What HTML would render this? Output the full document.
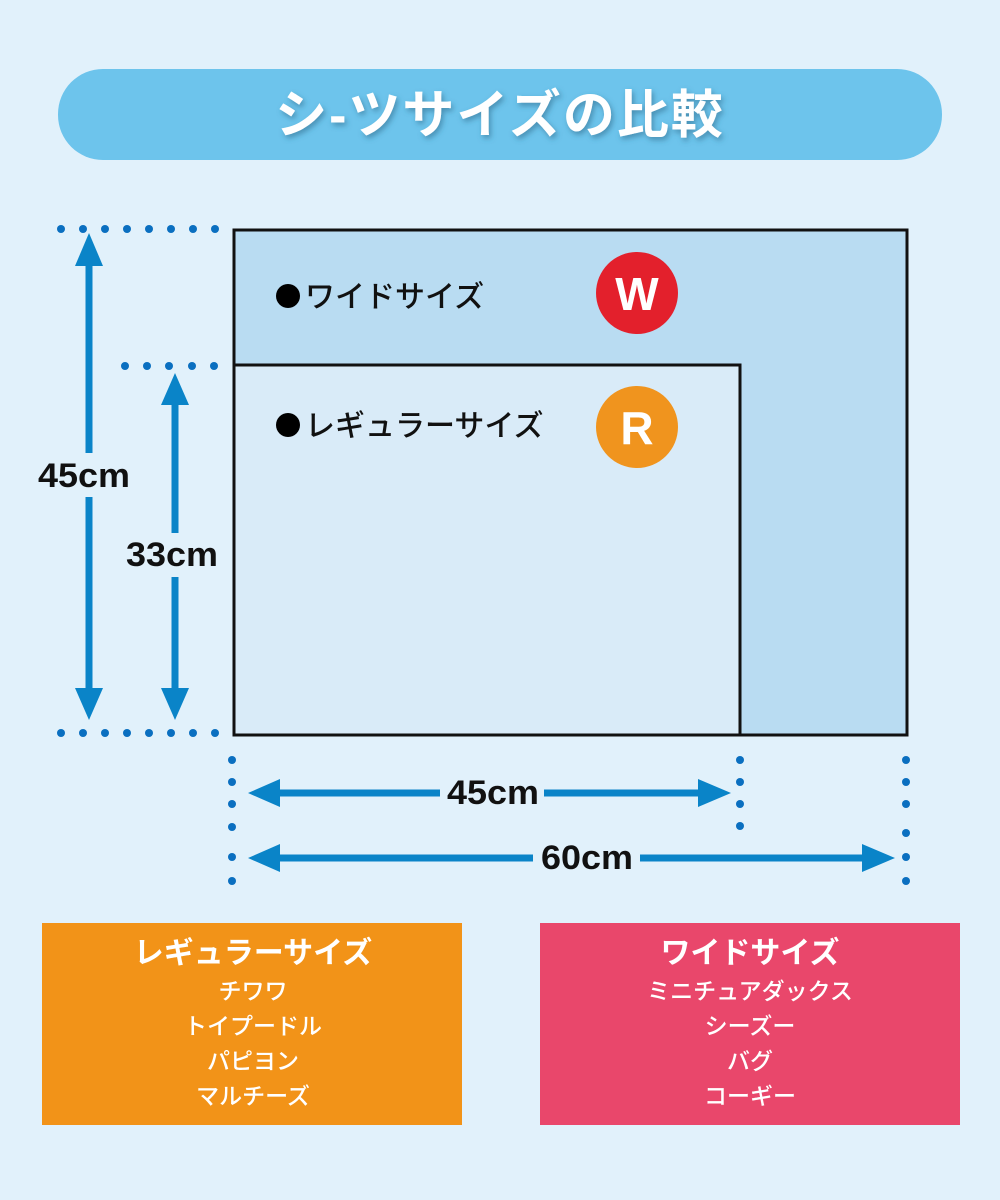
<!DOCTYPE html>
<html><head><meta charset="utf-8"><style>
body{margin:0;background:#e1f1fb;}
svg{display:block}
text{font-family:"Liberation Sans","Noto Sans CJK JP",sans-serif;font-weight:bold}
</style></head><body>
<svg width="1000" height="1200" viewBox="0 0 1000 1200" xmlns="http://www.w3.org/2000/svg">
<defs>
<filter id="sh" x="-10%" y="-30%" width="120%" height="160%"><feDropShadow dx="2" dy="3" stdDeviation="3" flood-color="#2a6a8a" flood-opacity="0.6"/></filter>
</defs>
<rect x="0" y="0" width="1000" height="1200" fill="#e1f1fb"/>
<rect x="58" y="69" width="884" height="91" rx="45" fill="#6dc4ec"/>
<text x="500" y="133" font-size="52" fill="#fff" text-anchor="middle" filter="url(#sh)" letter-spacing="2">シ-ツサイズの比較</text>

<rect x="234" y="230" width="673" height="505" fill="#b9dcf2" stroke="#111" stroke-width="3"/>
<rect x="234" y="365" width="506" height="370" fill="#d9ebf8" stroke="#111" stroke-width="3"/>
<circle cx="288" cy="296" r="12" fill="#000"/>
<circle cx="288" cy="425" r="12" fill="#000"/>
<text x="305" y="307" font-size="30" fill="#111" style="font-weight:500">ワイドサイズ</text>
<text x="305" y="436" font-size="30" fill="#111" style="font-weight:500">レギュラーサイズ</text>
<circle cx="637" cy="293" r="41" fill="#e3202c"/>
<text x="637" y="310" font-size="46" fill="#fff" text-anchor="middle">W</text>
<circle cx="637" cy="427" r="41" fill="#f0941e"/>
<text x="637" y="444" font-size="46" fill="#fff" text-anchor="middle">R</text>

<g fill="#0a6fc0">
<circle cx="61" cy="229" r="4"/><circle cx="83" cy="229" r="4"/><circle cx="105" cy="229" r="4"/><circle cx="127" cy="229" r="4"/><circle cx="149" cy="229" r="4"/><circle cx="171" cy="229" r="4"/><circle cx="193" cy="229" r="4"/><circle cx="215" cy="229" r="4"/>
<circle cx="125" cy="366" r="4"/><circle cx="147" cy="366" r="4"/><circle cx="169" cy="366" r="4"/><circle cx="192" cy="366" r="4"/><circle cx="214" cy="366" r="4"/>
<circle cx="61" cy="733" r="4"/><circle cx="83" cy="733" r="4"/><circle cx="105" cy="733" r="4"/><circle cx="127" cy="733" r="4"/><circle cx="149" cy="733" r="4"/><circle cx="171" cy="733" r="4"/><circle cx="193" cy="733" r="4"/><circle cx="215" cy="733" r="4"/>
<circle cx="232" cy="760" r="4"/><circle cx="232" cy="782" r="4"/><circle cx="232" cy="804" r="4"/><circle cx="232" cy="827" r="4"/><circle cx="232" cy="857" r="4"/><circle cx="232" cy="881" r="4"/>
<circle cx="740" cy="760" r="4"/><circle cx="740" cy="782" r="4"/><circle cx="740" cy="804" r="4"/><circle cx="740" cy="826" r="4"/>
<circle cx="906" cy="760" r="4"/><circle cx="906" cy="782" r="4"/><circle cx="906" cy="804" r="4"/><circle cx="906" cy="833" r="4"/><circle cx="906" cy="857" r="4"/><circle cx="906" cy="881" r="4"/>
</g>

<g stroke="#0a84c8" stroke-width="7">
<line x1="89" y1="255" x2="89" y2="700"/>
<line x1="175" y1="395" x2="175" y2="700"/>
<line x1="270" y1="793" x2="710" y2="793"/>
<line x1="270" y1="858" x2="875" y2="858"/>
</g>
<g fill="#0a84c8"><path d="M89,233 L103,266 L75,266Z"/><path d="M89,720 L103,688 L75,688Z"/><path d="M175,373 L189,405 L161,405Z"/><path d="M175,720 L189,688 L161,688Z"/><path d="M248,793 L280,779 L280,807Z"/><path d="M731,793 L698,779 L698,807Z"/><path d="M248,858 L280,844 L280,872Z"/><path d="M895,858 L862,844 L862,872Z"/></g>
<rect x="440" y="770" width="104" height="44" fill="#e1f1fb"/>
<rect x="533" y="836" width="107" height="44" fill="#e1f1fb"/>
<rect x="30" y="453" width="110" height="44" fill="#e1f1fb"/>
<rect x="118" y="533" width="110" height="44" fill="#e1f1fb"/>
<text x="493" y="804" font-size="34" fill="#111" text-anchor="middle" textLength="92" lengthAdjust="spacingAndGlyphs">45cm</text>
<text x="587" y="869" font-size="34" fill="#111" text-anchor="middle" textLength="92" lengthAdjust="spacingAndGlyphs">60cm</text>
<text x="84" y="487" font-size="34" fill="#111" text-anchor="middle" textLength="92" lengthAdjust="spacingAndGlyphs">45cm</text>
<text x="172" y="566" font-size="34" fill="#111" text-anchor="middle" textLength="92" lengthAdjust="spacingAndGlyphs">33cm</text>

<rect x="42" y="923" width="420" height="202" fill="#f29318"/>
<rect x="540" y="923" width="420" height="202" fill="#e9476b"/>
<g fill="#fff" text-anchor="middle">
<text x="253" y="963" font-size="30">レギュラーサイズ</text>
<text x="253" y="999" font-size="23" style="font-weight:500">チワワ</text>
<text x="253" y="1034" font-size="23" style="font-weight:500">トイプードル</text>
<text x="253" y="1069" font-size="23" style="font-weight:500">パピヨン</text>
<text x="253" y="1104" font-size="23" style="font-weight:500">マルチーズ</text>
<text x="750" y="963" font-size="30">ワイドサイズ</text>
<text x="750" y="999" font-size="23" style="font-weight:500">ミニチュアダックス</text>
<text x="750" y="1034" font-size="23" style="font-weight:500">シーズー</text>
<text x="750" y="1069" font-size="23" style="font-weight:500">バグ</text>
<text x="750" y="1104" font-size="23" style="font-weight:500">コーギー</text>
</g>
</svg>
</body></html>
